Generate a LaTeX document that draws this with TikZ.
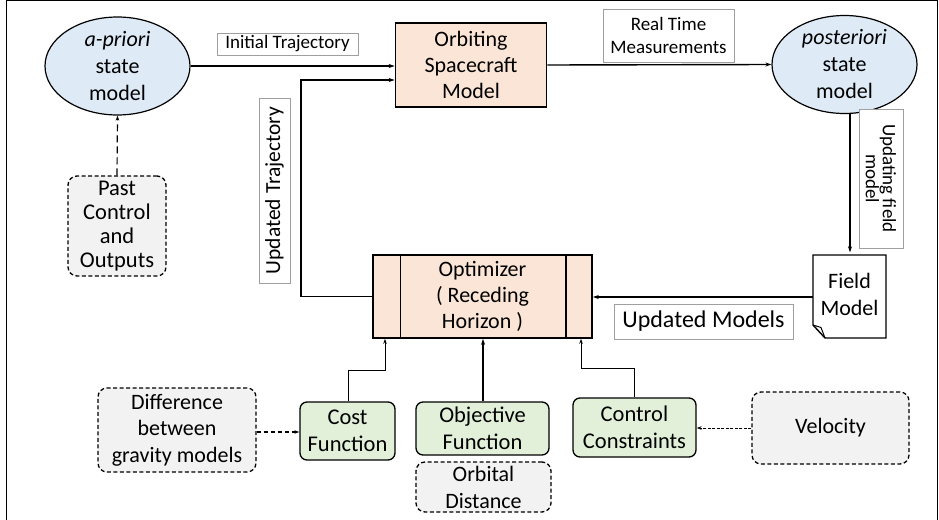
\documentclass[tikz,border=0pt]{standalone}
\usepackage{fontspec}
\setmainfont{Carlito}
\usetikzlibrary{shapes.geometric,arrows.meta}
\definecolor{blueL}{HTML}{DEEBF7}
\definecolor{peach}{HTML}{FBE5D6}
\definecolor{greenL}{HTML}{E2F0D9}
\definecolor{grayL}{HTML}{F2F2F2}
\tikzset{
  ell/.style={ellipse,draw,fill=blueL,line width=1.2pt,inner sep=0pt,align=center,font=\fontsize{22}{27}\selectfont},
  orbox/.style={draw,fill=peach,line width=1.6pt,inner sep=0pt,align=center,font=\fontsize{22}{26}\selectfont},
  grbox/.style={draw,fill=greenL,line width=1.3pt,rounded corners=7pt,inner sep=0pt,align=center,font=\fontsize{22.5}{27}\selectfont},
  gybox/.style={draw,dash pattern=on 4pt off 2.5pt,fill=grayL,line width=1.3pt,rounded corners=9pt,inner sep=0pt,align=center,font=\fontsize{22}{26.5}\selectfont},
  lbl/.style={draw=gray!75,line width=0.7pt,fill=white,inner sep=0pt,align=center,font=\fontsize{19}{23}\selectfont},
  conn/.style={line width=1.4pt,-{Stealth[length=6pt,width=4pt]}},
  thin/.style={line width=1pt,-{Stealth[length=5pt,width=3.5pt]}},
  dconn/.style={line width=1.2pt,-{Stealth[length=5pt,width=3.5pt]}},
}
\begin{document}
\begin{tikzpicture}[x=1pt,y=-1pt]
\useasboundingbox (0,0) rectangle (939,519);
\draw[line width=1pt] (6,530) -- (6,1) -- (937,1) -- (937,530);

% nodes
\node[ell,minimum width=145pt,minimum height=68pt] (apriori) at (117.5,66) {\textit{a-priori}\\state\\model};
\node[ell,minimum width=145pt,minimum height=84pt] (post) at (844.5,64.5) {\textit{posteriori}\\state\\model};
\node[orbox,minimum width=151pt,minimum height=84pt] (orb) at (471,65) {Orbiting\\Spacecraft\\Model};
\node[orbox,minimum width=219pt,minimum height=83pt] (opt) at (482.5,296.5) {Optimizer\\( Receding\\Horizon )};
\draw[line width=1.4pt] ([xshift=28pt]opt.north west) -- ([xshift=28pt]opt.south west);
\draw[line width=1.4pt] ([xshift=-27pt]opt.north east) -- ([xshift=-27pt]opt.south east);

\node[gybox,minimum width=98pt,minimum height=100pt,font=\fontsize{22.5}{24}\selectfont] (past) at (117,226) {Past\\Control\\and\\Outputs};
\node[gybox,minimum width=158pt,minimum height=84pt] (diff) at (177,430) {Difference\\between\\gravity models};
\node[gybox,minimum width=135pt,minimum height=50pt,font=\fontsize{22}{27}\selectfont] (orbd) at (483.5,487) {Orbital\\Distance};
\node[gybox,minimum width=157pt,minimum height=72pt] (vel) at (830.5,428) {Velocity};

\node[grbox,minimum width=95pt,minimum height=58pt] (cost) at (347.5,431) {Cost\\Function};
\node[grbox,minimum width=133pt,minimum height=53pt] (obj) at (482.5,428.5) {Objective\\Function};
\node[grbox,minimum width=123pt,minimum height=59pt] (ctrl) at (634.5,427.5) {Control\\Constraints};

% field model document shape
\fill[white] (813,255) -- (886,255) -- (886,338) -- (825,338) -- (813,325) -- cycle;
\draw[line width=1.4pt,line join=miter] (813,255) -- (886,255) -- (886,338) -- (825,338) -- (813,325) -- cycle;
\draw[line width=1pt] (813,325) -- (821,327.5) -- (825,338);
\node[inner sep=0pt,minimum width=73pt,minimum height=83pt,align=center,font=\fontsize{22}{27}\selectfont] (field) at (849.5,294) {Field\\Model};

% labels
\node[lbl,minimum width=141pt,minimum height=22pt] (lInit) at (287.5,44) {Initial Trajectory};
\node[lbl,minimum width=131pt,minimum height=53pt] (lReal) at (668.5,35.5) {Real Time\\Measurements};
\node[lbl,rotate=90,minimum width=185pt,minimum height=31pt,font=\fontsize{21.5}{25}\selectfont] (lUpd) at (274.5,190.5) {Updated Trajectory};
\node[lbl,rotate=-90,minimum width=139pt,minimum height=44pt,font=\fontsize{19}{17}\selectfont] (lField) at (881,178.5) {Updating field\\model};
\node[lbl,minimum width=179pt,minimum height=35pt,font=\fontsize{24}{28}\selectfont] (lMod) at (703.5,321.5) {Updated Models};

% connectors
\draw[conn] (apriori.east) -- (orb.west |- apriori.east);
\draw[conn] (opt.west) -| (301,80) -- (orb.west |- 0,80);
\draw[conn] (orb.east) -- (post.west);
\draw[conn] (post.south -| 850,0) -- (field.north -| 850,0);
\draw[conn] (field.west |- 0,297) -- (opt.east |- 0,297);
\draw[dconn,dash pattern=on 7pt off 4pt] (past.north) -- (apriori.south);
\draw[dconn,dash pattern=on 4pt off 3pt] (diff.east |- 0,432) -- (cost.west |- 0,432);
\draw[dconn,line width=1pt,dash pattern=on 3pt off 1.5pt] (vel.west) -- (ctrl.east |- vel.west);
\draw[thin] (cost.north -| 348,0) |- (385,370) -- (opt.south -| 385,0);
\draw[conn,line width=1.2pt] (obj.north -| 483,0) -- (opt.south -| 483,0);
\draw[thin] (ctrl.north -| 634,0) |- (581,368) -- (opt.south -| 581,0);
\end{tikzpicture}
\end{document}
